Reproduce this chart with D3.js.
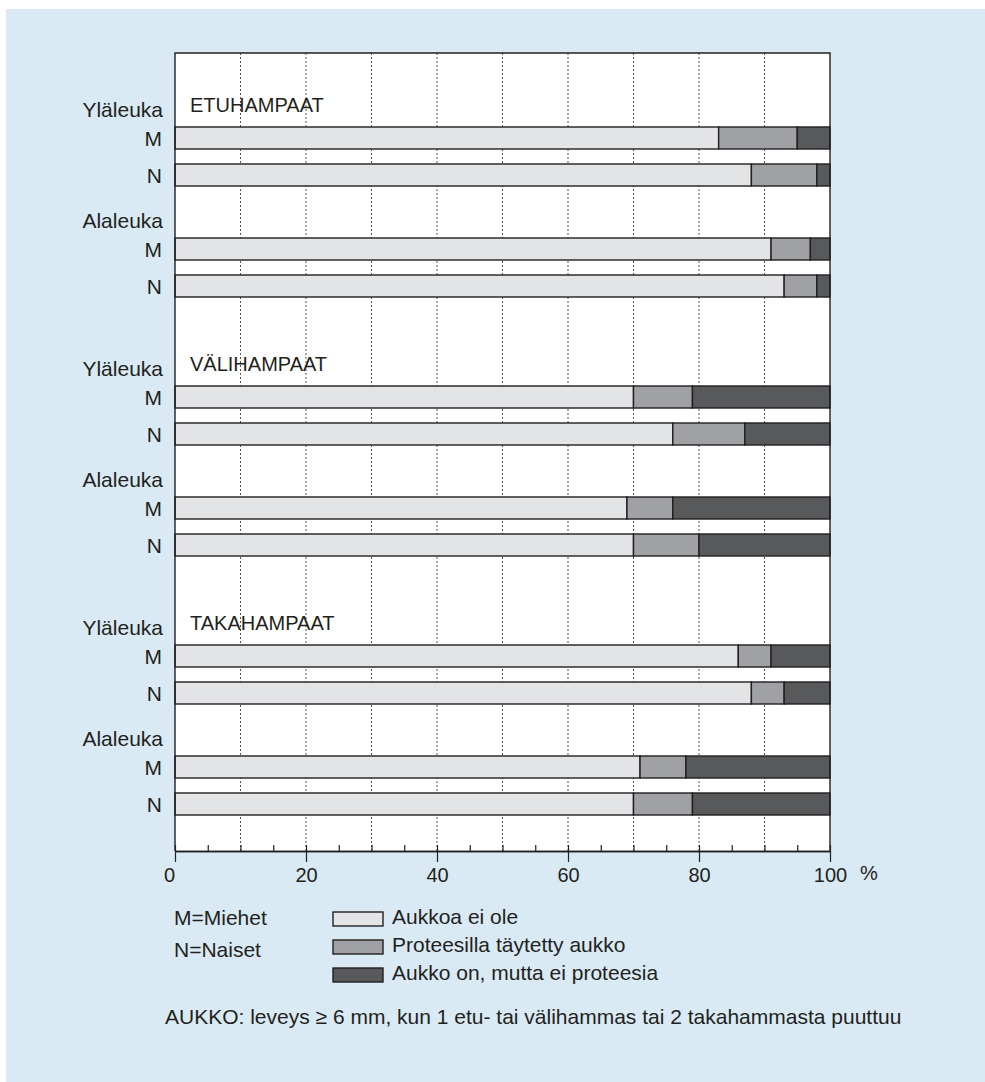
<!DOCTYPE html>
<html>
<head>
<meta charset="utf-8">
<script src="https://cdn.jsdelivr.net/npm/d3@7"></script>
<style>
  html, body { margin: 0; padding: 0; background: #fff; }
  svg { display: block; font-family: "Liberation Sans", Arial, sans-serif; }
</style>
</head>
<body>
<svg id="chart" width="985" height="1082"></svg>
<script>
// ---------- data ----------
const groups = ["ETUHAMPAAT", "VÄLIHAMPAAT", "TAKAHAMPAAT"];
const jaws = ["Yläleuka", "Alaleuka"];
const sexes = ["M", "N"];

// order: group -> jaw -> sex
const noGap    = [83, 88, 91, 93, 70, 76, 69, 70, 86, 88, 71, 70];
const filled   = [12, 10, 6, 5, 9, 11, 7, 10, 5, 5, 7, 9];
const unfilled = [5, 2, 3, 2, 21, 13, 24, 20, 9, 7, 22, 21];

const seriesKeys = ["noGap", "filled", "unfilled"];
const seriesLabels = ["Aukkoa ei ole", "Proteesilla täytetty aukko", "Aukko on, mutta ei proteesia"];
const seriesColors = ["#e3e4e6", "#a0a1a4", "#58595b"];

const xTicks = [0, 20, 40, 60, 80, 100];
const sexNotes = ["M=Miehet", "N=Naiset"];
const footnote = "AUKKO: leveys \u2265 6 mm, kun 1 etu- tai välihammas tai 2 takahammasta puuttuu";

// ---------- layout ----------
const ink = "#231f20";
const fs = 21;
const svg = d3.select("#chart");

svg.append("rect")
  .attr("x", 6).attr("y", 9)
  .attr("width", 985 - 6).attr("height", 1082 - 9)
  .attr("fill", "#d9eaf4");

const plotLeft = 175, plotRight = 830, plotTop = 53, plotBottom = 851;

const x = d3.scaleLinear().domain([0, 100]).range([plotLeft, plotRight]);
// row slot: group*7 + jaw*3 + sex
const y = d3.scaleLinear().domain([0, 18]).range([138, 804]);
const barH = 22;

const rows = [];
groups.forEach((g, gi) => {
  jaws.forEach((j, ji) => {
    sexes.forEach((s, si) => {
      const i = rows.length;
      rows.push({
        group: g, gi, jaw: j, ji, sex: s, si,
        slot: gi * 7 + ji * 3 + si,
        noGap: noGap[i], filled: filled[i], unfilled: unfilled[i]
      });
    });
  });
});

// plot background
svg.append("rect")
  .attr("x", plotLeft).attr("y", plotTop)
  .attr("width", plotRight - plotLeft).attr("height", plotBottom - plotTop)
  .attr("fill", "#fff");

// dotted gridlines
svg.append("g")
  .selectAll("line")
  .data(d3.range(10, 100, 10))
  .join("line")
  .attr("x1", d => x(d)).attr("x2", d => x(d))
  .attr("y1", plotTop).attr("y2", plotBottom)
  .attr("stroke", "#555")
  .attr("stroke-width", 1)
  .attr("stroke-dasharray", "2,2");

// stacked bars
const stacked = d3.stack().keys(seriesKeys)(rows);
const color = d3.scaleOrdinal().domain(seriesKeys).range(seriesColors);

svg.append("g")
  .selectAll("g")
  .data(stacked)
  .join("g")
  .attr("fill", d => color(d.key))
  .selectAll("rect")
  .data(d => d)
  .join("rect")
  .attr("x", d => x(d[0]))
  .attr("width", d => x(d[1]) - x(d[0]))
  .attr("y", d => y(d.data.slot) - barH / 2)
  .attr("height", barH)
  .attr("stroke", ink)
  .attr("stroke-width", 1.4);

// plot frame (left, top, right)
svg.append("path")
  .attr("d", `M${plotLeft},${plotBottom}V${plotTop}H${plotRight}V${plotBottom}`)
  .attr("fill", "none")
  .attr("stroke", ink)
  .attr("stroke-width", 1.4);

// x axis: minor ticks up, major ticks down
const minorAxis = d3.axisBottom(x)
  .tickValues(d3.range(0, 101, 5))
  .tickSizeInner(-6).tickSizeOuter(0)
  .tickFormat("");
const gMinor = svg.append("g")
  .attr("transform", `translate(0,${plotBottom})`)
  .call(minorAxis);

const majorAxis = d3.axisBottom(x)
  .tickValues(xTicks)
  .tickSizeInner(11).tickSizeOuter(0)
  .tickPadding(6)
  .tickFormat(d3.format("d"));
const gMajor = svg.append("g")
  .attr("transform", `translate(0,${plotBottom})`)
  .call(majorAxis);

[gMinor, gMajor].forEach(g => {
  g.select(".domain").attr("stroke", ink).attr("stroke-width", 1.4);
  g.selectAll(".tick line").attr("stroke", ink).attr("stroke-width", 1.2);
});
gMajor.selectAll(".tick text")
  .attr("fill", ink)
  .attr("font-size", 20)
  .attr("font-family", "\"Liberation Sans\", Arial, sans-serif");
gMajor.selectAll(".tick text").filter(d => d === 0).attr("dx", -6);

svg.append("text")
  .attr("x", x(100) + 30).attr("y", 880)
  .attr("fill", ink).attr("font-size", 20)
  .text("%");

// row labels
const labels = svg.append("g").attr("fill", ink).attr("font-size", fs);

labels.selectAll("text.sex")
  .data(rows)
  .join("text")
  .attr("class", "sex")
  .attr("x", 162)
  .attr("y", d => y(d.slot) + 8)
  .attr("text-anchor", "end")
  .text(d => d.sex);

labels.selectAll("text.jaw")
  .data(rows.filter(d => d.si === 0))
  .join("text")
  .attr("class", "jaw")
  .attr("x", 163)
  .attr("y", d => y(d.slot) - 21)
  .attr("text-anchor", "end")
  .text(d => d.jaw);

labels.selectAll("text.group")
  .data(rows.filter(d => d.si === 0 && d.ji === 0))
  .join("text")
  .attr("class", "group")
  .attr("x", 190)
  .attr("y", d => y(d.slot) - 26)
  .attr("font-size", 20)
  .text(d => d.group);

// legend
const legend = svg.append("g").attr("fill", ink).attr("font-size", fs);

legend.selectAll("text.note")
  .data(sexNotes)
  .join("text")
  .attr("class", "note")
  .attr("x", 174)
  .attr("y", (d, i) => 925 + i * 32)
  .text(d => d);

const items = legend.selectAll("g.item")
  .data(seriesKeys)
  .join("g")
  .attr("class", "item")
  .attr("transform", (d, i) => `translate(333,${912 + i * 28})`);

items.append("rect")
  .attr("width", 50).attr("height", 14)
  .attr("fill", d => color(d))
  .attr("stroke", ink)
  .attr("stroke-width", 1.4);

items.append("text")
  .attr("x", 59).attr("y", 12)
  .text((d, i) => seriesLabels[i]);

svg.append("text")
  .attr("x", 165).attr("y", 1024)
  .attr("fill", ink).attr("font-size", fs)
  .text(footnote);
</script>
</body>
</html>
